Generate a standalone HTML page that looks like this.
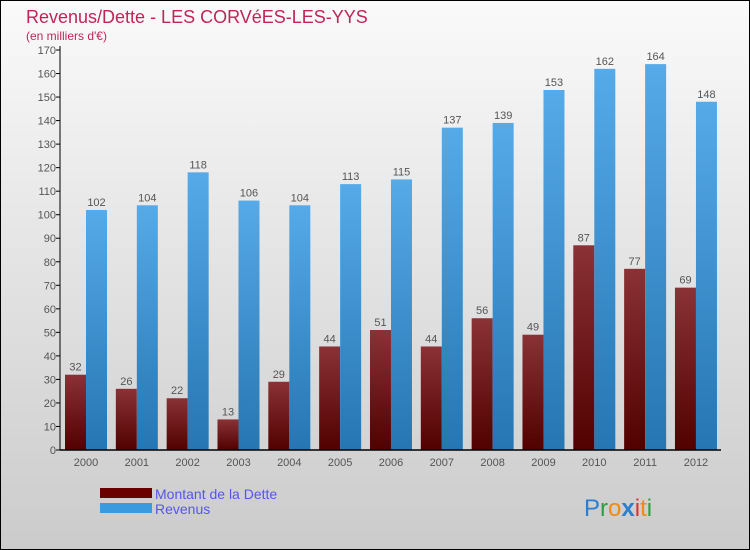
<!DOCTYPE html>
<html><head><meta charset="utf-8">
<style>
body{margin:0;}
svg{display:block;font-family:"Liberation Sans",sans-serif;}
</style></head>
<body>
<svg id="chart" width="750" height="550" viewBox="0 0 750 550" xmlns="http://www.w3.org/2000/svg">
<defs>
<linearGradient id="bg" x1="0" y1="0" x2="0" y2="1"><stop offset="0" stop-color="#fafafa"/><stop offset="1" stop-color="#cbcbcb"/></linearGradient>
<linearGradient id="gd" x1="0" y1="0" x2="0" y2="1"><stop offset="0" stop-color="#8a3236"/><stop offset="1" stop-color="#520000"/></linearGradient>
<linearGradient id="gr" x1="0" y1="0" x2="0" y2="1"><stop offset="0" stop-color="#56aae8"/><stop offset="1" stop-color="#2576b2"/></linearGradient>
</defs>
<rect x="0.5" y="0.5" width="749" height="549" fill="url(#bg)" stroke="#000"/>
<text x="26" y="23" font-size="18" fill="#c0245a">Revenus/Dette - LES CORVéES-LES-YYS</text>
<text x="26" y="40" font-size="12" fill="#c0245a">(en milliers d'€)</text>
<g id="plot"></g>
<g>
<rect x="100" y="488" width="52" height="10" fill="#6b0000"/>
<text x="155" y="499" font-size="14" fill="#5555ee">Montant de la Dette</text>
<rect x="100" y="503" width="52" height="10" fill="#3a9ae0"/>
<text x="155" y="514" font-size="14" fill="#5555ee">Revenus</text>
</g>
<text x="584" y="516" font-size="24"><tspan fill="#2a7fd0">P</tspan><tspan fill="#2aa040">r</tspan><tspan fill="#f08a10">o</tspan><tspan fill="#2a7fd0" font-weight="bold">x</tspan><tspan fill="#e03030">i</tspan><tspan fill="#f08a10">t</tspan><tspan fill="#2aa040">i</tspan></text>
</svg>
<script>
const years=["2000","2001","2002","2003","2004","2005","2006","2007","2008","2009","2010","2011","2012"];
const dette=[32,26,22,13,29,44,51,44,56,49,87,77,69];
const revenus=[102,104,118,106,104,113,115,137,139,153,162,164,148];
const yTicks=[0,10,20,30,40,50,60,70,80,90,100,110,120,130,140,150,160,170];
const NS="http://www.w3.org/2000/svg";
const g=document.getElementById('plot');
const x0=60,x1=721,yb=450,yt=50,ymax=170;
const y=v=>yb-(v/ymax)*(yb-yt);
const step=50.83,first=86;
const cx=i=>first+i*step;
function el(t,a,p){const e=document.createElementNS(NS,t);for(const k in a)e.setAttribute(k,a[k]);(p||g).appendChild(e);return e;}
yTicks.forEach(v=>{
 const l=el('line',{x1:x0-4,x2:x0,y1:y(v),y2:y(v),stroke:'#000'});
 
 
 const t=el('text',{x:x0-4,y:y(v)+4,'font-size':11,'text-anchor':'end',fill:'#555'});
 t.textContent=v;
 
 
});
years.forEach((yr,i)=>{
 const c=cx(i);
 const bd=el('rect',{x:c-21,y:y(dette[i]),width:21,height:yb-y(dette[i]),fill:'url(#gd)'});
 
 
 const br=el('rect',{x:c,y:y(revenus[i]),width:21,height:yb-y(revenus[i]),fill:'url(#gr)'});
 
 
 const td=el('text',{x:c-10.5,y:y(dette[i])-4,'font-size':11,'text-anchor':'middle',fill:'#555'});
 td.textContent=dette[i];
 
 
 const tr=el('text',{x:c+10.5,y:y(revenus[i])-4,'font-size':11,'text-anchor':'middle',fill:'#555'});
 tr.textContent=revenus[i];
 
 
 const tx=el('text',{x:c,y:466,'font-size':11,'text-anchor':'middle',fill:'#555'});
 tx.textContent=yr;
 
 
});
const ya=el('line',{x1:x0,x2:x0,y1:yt-4,y2:yb,stroke:'#000'});


const xa=el('line',{x1:x0,x2:x1,y1:yb,y2:yb,stroke:'#000','stroke-width':1.5});


</script>
</body></html>
